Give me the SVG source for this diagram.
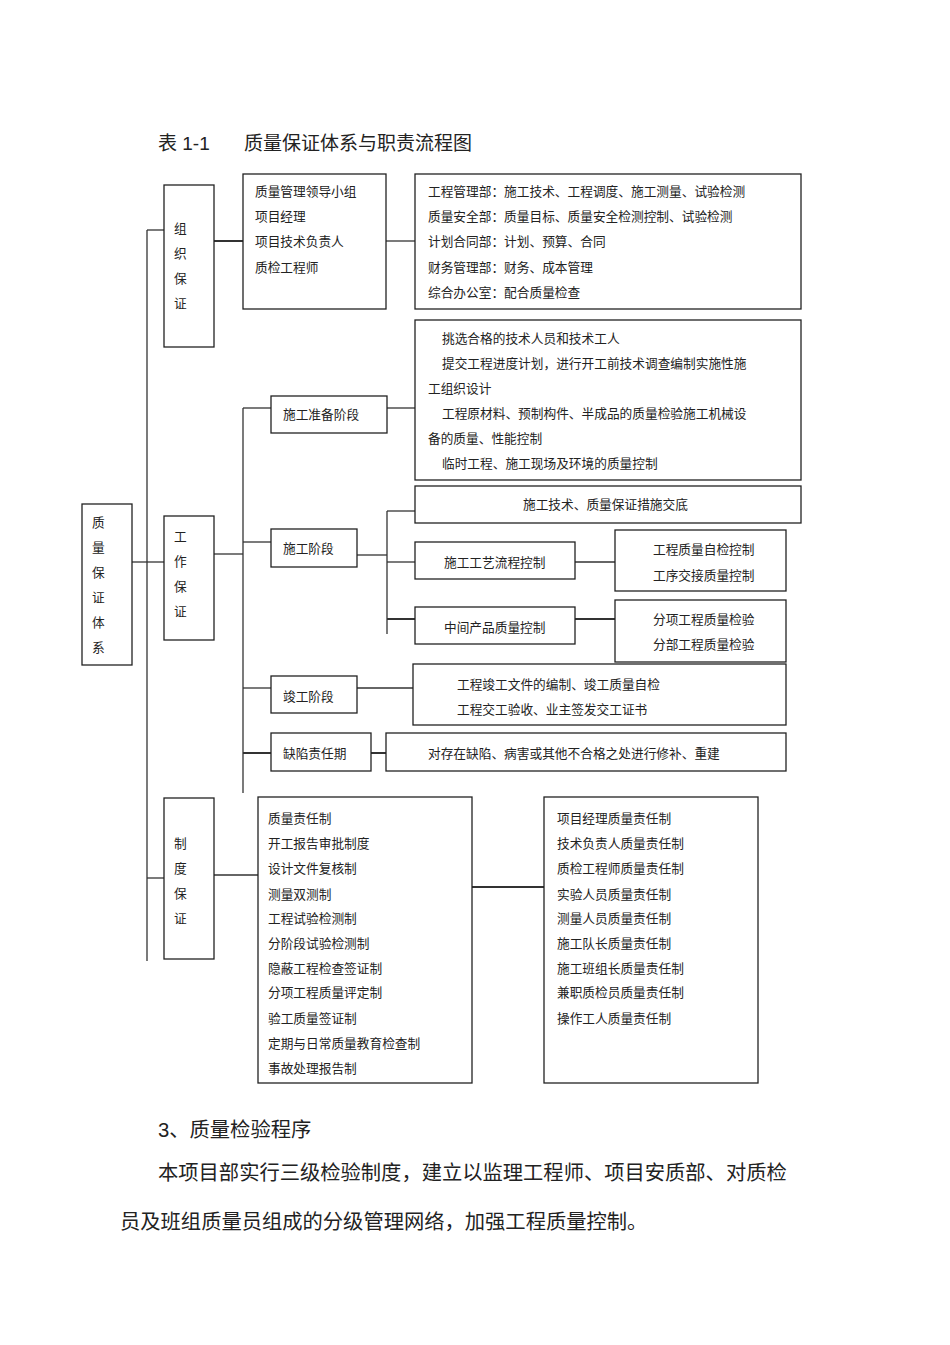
<svg xmlns="http://www.w3.org/2000/svg" width="950" height="1345" viewBox="0 0 950 1345">
<style>
rect{fill:#fff;stroke:#222;stroke-width:1.3}
.c line{stroke:#333;stroke-width:1.3}
text{font-family:"Liberation Sans","Noto Sans CJK SC",sans-serif;font-size:12.7px;fill:#222}
.big{font-size:19px}
.p{font-size:20.3px}
</style>
<rect width="950" height="1345" style="fill:#fff;stroke:none"/>
<text class="big" x="158" y="150">表 1-1</text><text class="big" x="244" y="150">质量保证体系与职责流程图</text>
<g class="c">
<line x1="147" y1="230" x2="147" y2="961"/>
<line x1="147" y1="230" x2="164" y2="230"/>
<line x1="132" y1="562" x2="164" y2="562"/>
<line x1="147" y1="878" x2="164" y2="878"/>
<line x1="214" y1="241" x2="243" y2="241" style="stroke-width:2"/>
<line x1="386" y1="241" x2="415" y2="241"/>
<line x1="214" y1="554" x2="243" y2="554"/>
<line x1="243" y1="408" x2="243" y2="793"/>
<line x1="243" y1="408" x2="271" y2="408"/>
<line x1="243" y1="542" x2="271" y2="542"/>
<line x1="243" y1="688" x2="271" y2="688"/>
<line x1="243" y1="753" x2="271" y2="753" style="stroke-width:2"/>
<line x1="387" y1="408" x2="415" y2="408"/>
<line x1="357" y1="555" x2="387" y2="555"/>
<line x1="387" y1="511" x2="387" y2="634"/>
<line x1="387" y1="511" x2="415" y2="511"/>
<line x1="387" y1="562" x2="415" y2="562"/>
<line x1="387" y1="619" x2="415" y2="619" style="stroke-width:2"/>
<line x1="575" y1="562" x2="615" y2="562"/>
<line x1="575" y1="619" x2="615" y2="619" style="stroke-width:2"/>
<line x1="357" y1="688" x2="413" y2="688"/>
<line x1="371" y1="753" x2="386" y2="753" style="stroke-width:2"/>
<line x1="214" y1="875" x2="258" y2="875"/>
<line x1="472" y1="887" x2="544" y2="887" style="stroke-width:2"/>
</g>
<g id="n-root"><rect x="82" y="504" width="50" height="161"/>
<text x="92" y="527">质</text><text x="92" y="552">量</text><text x="92" y="577">保</text><text x="92" y="602">证</text><text x="92" y="627">体</text><text x="92" y="652">系</text></g>
<g id="n-org"><rect x="164" y="185" width="50" height="162"/>
<text x="174" y="233">组</text><text x="174" y="258">织</text><text x="174" y="283">保</text><text x="174" y="308">证</text></g>
<g id="n-org1"><rect x="243" y="174" width="143" height="135"/>
<text x="255" y="196">质量管理领导小组</text><text x="255" y="221">项目经理</text><text x="255" y="246">项目技术负责人</text><text x="255" y="272">质检工程师</text></g>
<g id="n-org2"><rect x="415" y="174" width="386" height="135"/>
<text x="428" y="196">工程管理部：施工技术、工程调度、施工测量、试验检测</text>
<text x="428" y="221">质量安全部：质量目标、质量安全检测控制、试验检测</text>
<text x="428" y="246">计划合同部：计划、预算、合同</text>
<text x="428" y="272">财务管理部：财务、成本管理</text>
<text x="428" y="297">综合办公室：配合质量检查</text></g>
<g id="n-work"><rect x="164" y="516" width="50" height="124"/>
<text x="174" y="541">工</text><text x="174" y="566">作</text><text x="174" y="591">保</text><text x="174" y="616">证</text></g>
<g id="n-prep"><rect x="271" y="396" width="116" height="37"/><text x="283" y="419">施工准备阶段</text></g>
<g id="n-prep2"><rect x="415" y="320" width="386" height="160"/>
<text x="442" y="343">挑选合格的技术人员和技术工人</text>
<text x="442" y="368">提交工程进度计划，进行开工前技术调查编制实施性施</text>
<text x="428" y="393">工组织设计</text>
<text x="442" y="418">工程原材料、预制构件、半成品的质量检验施工机械设</text>
<text x="428" y="443">备的质量、性能控制</text>
<text x="442" y="468">临时工程、施工现场及环境的质量控制</text></g>
<g id="n-build"><rect x="271" y="529" width="86" height="38"/><text x="283" y="553">施工阶段</text></g>
<g id="n-b1"><rect x="415" y="486" width="386" height="37"/><text x="523" y="509">施工技术、质量保证措施交底</text></g>
<g id="n-b2"><rect x="415" y="542" width="160" height="37"/><text x="444" y="567">施工工艺流程控制</text></g>
<g id="n-b3"><rect x="415" y="607" width="160" height="37"/><text x="444" y="632">中间产品质量控制</text></g>
<g id="n-b2r"><rect x="615" y="530" width="171" height="61"/><text x="653" y="554">工程质量自检控制</text><text x="653" y="580">工序交接质量控制</text></g>
<g id="n-b3r"><rect x="615" y="600" width="171" height="62"/><text x="653" y="624">分项工程质量检验</text><text x="653" y="649">分部工程质量检验</text></g>
<g id="n-done"><rect x="271" y="676" width="86" height="37"/><text x="283" y="701">竣工阶段</text></g>
<g id="n-done2"><rect x="413" y="664" width="373" height="61"/><text x="457" y="689">工程竣工文件的编制、竣工质量自检</text><text x="457" y="714">工程交工验收、业主签发交工证书</text></g>
<g id="n-def"><rect x="271" y="733" width="100" height="38"/><text x="283" y="758">缺陷责任期</text></g>
<g id="n-def2"><rect x="386" y="733" width="400" height="38"/><text x="428" y="758">对存在缺陷、病害或其他不合格之处进行修补、重建</text></g>
<g id="n-sys"><rect x="164" y="798" width="50" height="161"/>
<text x="174" y="848">制</text><text x="174" y="873">度</text><text x="174" y="898">保</text><text x="174" y="923">证</text></g>
<g id="n-sys1"><rect x="258" y="797" width="214" height="286"/>
<text x="268" y="823">质量责任制</text><text x="268" y="848">开工报告审批制度</text><text x="268" y="873">设计文件复核制</text><text x="268" y="899">测量双测制</text><text x="268" y="923">工程试验检测制</text><text x="268" y="948">分阶段试验检测制</text><text x="268" y="973">隐蔽工程检查签证制</text><text x="268" y="997">分项工程质量评定制</text><text x="268" y="1023">验工质量签证制</text><text x="268" y="1048">定期与日常质量教育检查制</text><text x="268" y="1073">事故处理报告制</text></g>
<g id="n-sys2"><rect x="544" y="797" width="214" height="286"/>
<text x="557" y="823">项目经理质量责任制</text><text x="557" y="848">技术负责人质量责任制</text><text x="557" y="873">质检工程师质量责任制</text><text x="557" y="899">实验人员质量责任制</text><text x="557" y="923">测量人员质量责任制</text><text x="557" y="948">施工队长质量责任制</text><text x="557" y="973">施工班组长质量责任制</text><text x="557" y="997">兼职质检员质量责任制</text><text x="557" y="1023">操作工人质量责任制</text></g>
<text class="p" x="158" y="1137">3、质量检验程序</text>
<text class="p" x="158" y="1180">本项目部实行三级检验制度，建立以监理工程师、项目安质部、对质检</text>
<text class="p" x="120" y="1229">员及班组质量员组成的分级管理网络，加强工程质量控制。</text>
</svg>
